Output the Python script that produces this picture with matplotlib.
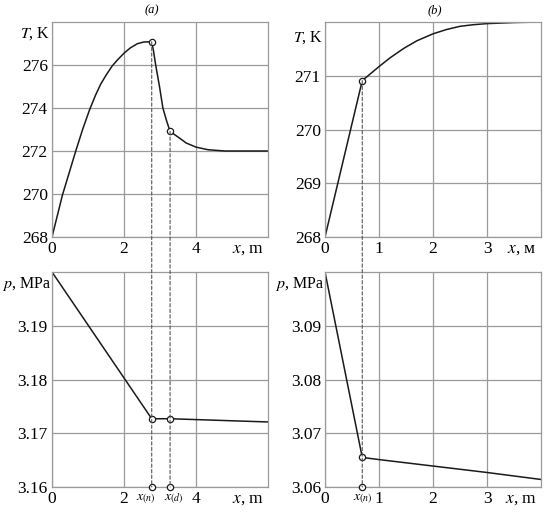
import matplotlib
matplotlib.use("Agg")
import matplotlib.pyplot as plt
from matplotlib.patches import ConnectionPatch

plt.rcParams["font.family"] = "Liberation Serif"
plt.rcParams["mathtext.fontset"] = "stix"

# panel (a): temperature and pressure along x
xa_T = [0, 0.29, 0.66, 0.85, 1.04, 1.21, 1.35, 1.51, 1.67, 1.81, 2.0, 2.18,
        2.37, 2.55, 2.77, 2.82, 2.88, 2.99, 3.08, 3.18, 3.28, 3.5, 3.73,
        4.0, 4.33, 4.8, 6.0]
Ta = [268, 269.95, 272, 273.0, 273.9, 274.6, 275.1, 275.55, 275.95, 276.22,
      276.55, 276.8, 276.99, 277.07, 277.08, 276.65, 276, 274.96, 274, 273.42,
      272.91, 272.65, 272.37, 272.18, 272.06, 272.0, 272.0]
xa_p = [0, 2.77, 3.28, 6.0]
pa = [3.2, 3.1727, 3.1727, 3.1721]
xa_marks = [2.77, 3.28]
Ta_marks = [277.08, 272.91]
pa_marks = [3.1727, 3.1727]
xa_names = [r"$x_{(n)}$", r"$x_{(d)}$"]
xa_name_shift = [-4.5, 3]

# panel (b)
xb_T = [0, 0.69, 1.0, 1.2, 1.46, 1.7, 2.0, 2.25, 2.5, 2.75, 3.0, 3.5, 4.0]
Tb = [268, 270.91, 271.17, 271.33, 271.51, 271.65, 271.78, 271.86, 271.92,
      271.95, 271.97, 271.99, 272.0]
xb_p = [0, 0.69, 1.0, 2.0, 3.0, 4.0]
pb = [3.1, 3.0655, 3.0651, 3.0639, 3.0627, 3.0614]
xb_marks = [0.69]
Tb_marks = [270.91]
pb_marks = [3.0655]
xb_names = [r"$x_{(n)}$"]
xb_name_shift = [0]

W, H = 550, 513
fig = plt.figure(figsize=(W / 100, H / 100), dpi=100)

def box(l, t, r, b):
    return [l / W, 1 - b / H, (r - l) / W, (b - t) / H]

ax1 = fig.add_axes(box(52, 22, 268, 237))
ax2 = fig.add_axes(box(52, 272, 268, 487))
ax3 = fig.add_axes(box(325, 22, 541, 237))
ax4 = fig.add_axes(box(325, 272, 541, 487))

grid_c = "#9a9a9a"
line_c = "#1a1a1a"

def style(ax, xlim, xticks, ylim, yticks, yfmt, xlab, ylab, ylab_y):
    ax.set_xlim(xlim)
    ax.set_ylim(ylim)
    ax.set_xticks(xticks)
    ax.set_yticks(yticks)
    ax.set_yticklabels([yfmt.format(v) for v in yticks])
    ax.tick_params(length=0, labelsize=12.5, pad=3)
    ax.grid(True, color=grid_c, lw=0.9)
    ax.set_axisbelow(True)
    for s in ax.spines.values():
        s.set_color(grid_c)
        s.set_linewidth(0.9)
    ax.text(0.98, -0.018, xlab, transform=ax.transAxes, ha="right", va="top",
            fontsize=12.5)
    ax.text(-0.006, ylab_y, ylab, transform=ax.transAxes, ha="right",
            va="center", fontsize=11.5)

style(ax1, (0, 6), [0, 2, 4], (268, 278), [268, 270, 272, 274, 276], "{:.0f}",
      r"$x$, m", r"$T$, K", 0.944)
style(ax2, (0, 6), [0, 2, 4], (3.16, 3.20), [3.16, 3.17, 3.18, 3.19], "{:.2f}",
      r"$x$, m", r"$p$, MPa", 0.944)
style(ax3, (0, 4), [0, 1, 2, 3], (268, 272), [268, 269, 270, 271], "{:.0f}",
      r"$x$, м", r"$T$, K", 0.927)
style(ax4, (0, 4), [0, 1, 2, 3], (3.06, 3.10), [3.06, 3.07, 3.08, 3.09], "{:.2f}",
      r"$x$, m", r"$p$, MPa", 0.944)

ax1.plot(xa_T, Ta, color=line_c, lw=1.1)
ax2.plot(xa_p, pa, color=line_c, lw=1.1)
ax3.plot(xb_T, Tb, color=line_c, lw=1.1)
ax4.plot(xb_p, pb, color=line_c, lw=1.1)

mk = dict(marker="o", ms=4.5, mfc="white", mec=line_c, mew=0.9, ls="none",
          clip_on=False, zorder=5)

def link(top, bot, xs, ts, ps, names, shifts):
    y0 = bot.get_ylim()[0]
    for x, t, p, nm, dx in zip(xs, ts, ps, names, shifts):
        con = ConnectionPatch(xyA=(x, t), coordsA="data", axesA=top,
                              xyB=(x, y0), coordsB="data", axesB=bot,
                              color="#555555", lw=0.8, ls=(0, (3, 2)),
                              zorder=3)
        fig.add_artist(con)
        top.plot([x], [t], **mk)
        bot.plot([x, x], [p, y0], **mk)
        bot.annotate(nm, (x, 0), xycoords=bot.get_xaxis_transform(),
                     xytext=(dx, -4), textcoords="offset points",
                     ha="center", va="top", fontsize=10)

link(ax1, ax2, xa_marks, Ta_marks, pa_marks, xa_names, xa_name_shift)
link(ax3, ax4, xb_marks, Tb_marks, pb_marks, xb_names, xb_name_shift)

fig.text(152 / W, 1 - 10 / H, "(a)", style="italic", fontsize=9,
         ha="center", va="center")
fig.text(435 / W, 1 - 10 / H, "(b)", style="italic", fontsize=9,
         ha="center", va="center")

fig.savefig("out.png", dpi=100)
